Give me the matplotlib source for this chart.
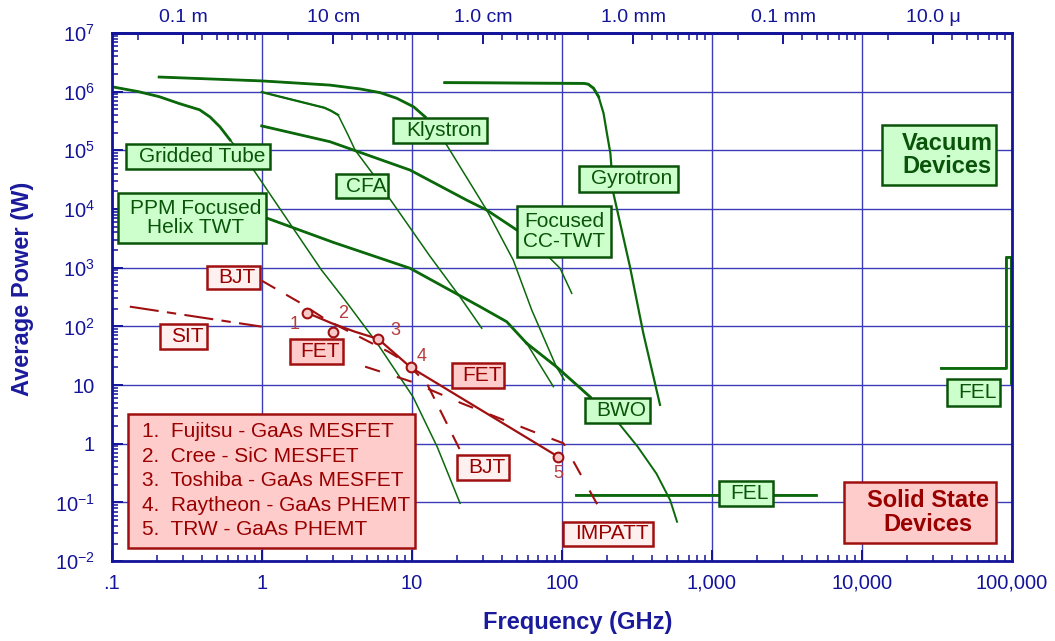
import numpy as np
import matplotlib
matplotlib.use('Agg')
import matplotlib.pyplot as plt
from matplotlib.patches import Rectangle
from matplotlib.ticker import FixedLocator, LogLocator, NullFormatter

plt.rcParams['font.family'] = ['Liberation Sans', 'DejaVu Sans']
plt.rcParams['mathtext.fontset'] = 'custom'
plt.rcParams['mathtext.rm'] = 'Liberation Sans'
plt.rcParams['mathtext.it'] = 'Liberation Sans:italic'
plt.rcParams['mathtext.bf'] = 'Liberation Sans:bold'

# ---- vacuum devices: frequency (GHz) / average power (W) ----
gridded_f = [0.1, 0.15, 0.207, 0.285, 0.385, 0.452, 0.527, 0.615, 0.74, 0.9,
             2.50, 3.58, 5.87, 10.2, 14.8, 21.0]
gridded_p = [1.21e6, 1.0e6, 8.2e5, 6.2e5, 4.9e5, 3.7e5, 2.5e5, 1.5e5, 8.6e4, 4.3e4,
             914, 282, 52, 6.3, 0.88, 0.097]

klystron_f = [0.207, 1.0, 2.85, 4.52, 6.15, 7.94, 10.3, 12.3, 17.1, 31.6, 47.5, 63.1, 92, 104]
klystron_p = [1.77e6, 1.52e6, 1.29e6, 1.11e6, 9.6e5, 7.7e5, 5.5e5, 3.7e5, 1.23e5, 9.6e3,
              1.35e3, 190, 20.6, 12.2]

cfa_f = [1.0, 2.62, 2.90, 3.23, 3.77, 4.19, 5.45, 6.98, 13.2, 21.0, 29.3]
cfa_p = [9.8e5, 5.3e5, 4.7e5, 4.0e5, 1.8e5, 1.01e5, 4.1e4, 1.62e4, 1.58e3, 317, 93]

cctwt_f = [1.0, 2.85, 9.75, 23.2, 31.6, 50.1, 81.5, 97.5, 116.6]
cctwt_p = [2.6e5, 1.4e5, 4.6e4, 1.42e4, 9.6e3, 4.4e3, 1.54e3, 977, 366]

helix_f = [0.9, 1.09, 3.0, 9.75, 28.5, 43, 58.4, 88]
helix_p = [8.2e3, 6.95e3, 2.7e3, 977, 217, 120, 51.5, 9.4]

bwo_f = [58.4, 92, 154.5, 240, 321, 428, 528, 587]
bwo_p = [51.5, 20.6, 6.3, 2.23, 0.89, 0.31, 0.11, 0.047]

gyro_f = [16.6, 139, 150, 163, 176, 190, 200, 211, 221, 285, 350, 452]
gyro_p = [1.42e6, 1.38e6, 1.34e6, 1.14e6, 8.2e5, 4.27e5, 1.95e5, 8.9e4, 1.85e4, 1.04e3, 76, 4.6]

fel_mm_f = [125, 4960]
fel_mm_p = [0.134, 0.134]

fel_ir_f = [34000, 91900, 91900, 98500, 98500]
fel_ir_p = [19.3, 19.3, 1540, 1540, 10.7]

# ---- solid state devices ----
sit_f = [0.132, 1.0]
sit_p = [217, 99]

bjt_f = [1.0, 1.75, 2.71, 7.0, 9.0, 12.6, 21.0]
bjt_p = [601, 264, 128, 37, 25, 10.7, 0.78]

impatt_f = [4.89, 10.0, 21.5, 73.6, 102.6, 194]
impatt_p = [20.6, 11.4, 4.9, 1.41, 1.02, 0.054]

fet_f = [2.0, 2.93, 4.19, 5.98, 9.85, 94.9]
fet_p = [171, 113, 81, 61, 20, 0.60]

# numbered state-of-the-art FET results
device_f = [2.0, 3.0, 5.98, 9.85, 94.9]
device_p = [171, 81, 61, 20, 0.60]
device_names = ['Fujitsu - GaAs MESFET', 'Cree - SiC MESFET', 'Toshiba - GaAs MESFET',
                'Raytheon - GaAs PHEMT', 'TRW - GaAs PHEMT']

x_ticks = [0.1, 1, 10, 100, 1e3, 1e4, 1e5]
x_labels = ['.1', '1', '10', '100', '1,000', '10,000', '100,000']
y_ticks = [1e-2, 1e-1, 1, 10, 1e2, 1e3, 1e4, 1e5, 1e6, 1e7]
y_labels = [r'$10^{-2}$', r'$10^{-1}$', '1', '10', r'$10^{2}$', r'$10^{3}$',
            r'$10^{4}$', r'$10^{5}$', r'$10^{6}$', r'$10^{7}$']
wave_ticks = [0.3, 3, 30, 300, 3000, 30000]
wave_labels = ['0.1 m', '10 cm', '1.0 cm', '1.0 mm', '0.1 mm', '10.0 \u03bc']

GREEN = '#0b690b'
GREEN_TXT = '#0a540a'
RED = '#a01010'
RED_TXT = '#990000'
AXIS = '#14149a'
GRID = '#3c3cb8'

fig = plt.figure(figsize=(10.55, 6.41), dpi=100)
ax = fig.add_axes([0.1059, 0.1245, 0.8531, 0.8242])
ax.set_xscale('log')
ax.set_yscale('log')
ax.set_xlim(0.1, 1e5)
ax.set_ylim(1e-2, 1e7)

ax.grid(True, which='major', color=GRID, lw=1.0, zorder=0)
ax.set_axisbelow(True)


def vacuum(f, p, thick_to=None, thin=1.1, thick=2.0):
    ax.plot(f, p, color=GREEN, lw=thin, zorder=2, solid_joinstyle='round')
    if thick_to is not None:
        f = np.asarray(f)
        p = np.asarray(p)
        keep = f <= thick_to
        ax.plot(f[keep], p[keep], color=GREEN, lw=thick, zorder=2, solid_joinstyle='round')


vacuum(gridded_f, gridded_p, thick_to=0.62)
vacuum(klystron_f, klystron_p, thick_to=12.3)
vacuum(cfa_f, cfa_p, thick_to=3.3, thick=1.6)
vacuum(cctwt_f, cctwt_p, thick_to=60)
vacuum(helix_f, helix_p, thick_to=58.4)
vacuum(bwo_f, bwo_p, thick_to=160, thin=1.4)
vacuum(gyro_f, gyro_p, thick_to=180, thin=1.6)
vacuum(fel_mm_f, fel_mm_p, thick_to=1e5)
vacuum(fel_ir_f, fel_ir_p, thick_to=1e5)

ax.plot(sit_f, sit_p, color=RED, lw=1.5, ls=(0, (14, 4, 4.5, 4)), zorder=3)
ax.plot(bjt_f, bjt_p, color=RED, lw=1.5, ls=(0, (7.5, 6)), zorder=3)
ax.plot(impatt_f, impatt_p, color=RED, lw=1.5, ls=(0, (7.5, 8.5)), zorder=3)
ax.plot(fet_f, fet_p, color=RED, lw=1.6, zorder=3)
ax.plot(device_f, device_p, ls='none', marker='o', ms=7, mfc='#f6c8c8', mec=RED,
        mew=1.5, zorder=3.5)

# point numbers next to the markers
for num, (x, y) in enumerate([(0.2037, 0.4471), (0.2573, 0.4692), (0.3148, 0.4376),
                              (0.3444, 0.3871), (0.4962, 0.1664)], start=1):
    ax.text(x, y, str(num), transform=ax.transAxes, color='#b53c3c', fontsize=13,
            ha='center', va='center', zorder=5)


def tag(box, text, face, edge, color, size=15, weight='normal', dx=0.004, lw=1.8):
    x0, y0, x1, y1 = box
    ax.add_patch(Rectangle((x0, y0), x1 - x0, y1 - y0, transform=ax.transAxes,
                           facecolor=face, edgecolor=edge, lw=lw, zorder=4,
                           clip_on=False))
    ax.text((x0 + x1) / 2 + dx, (y0 + y1) / 2, text, transform=ax.transAxes, color=color,
            fontsize=size, fontweight=weight, ha='center', va='center',
            multialignment='center', linespacing=1.05, zorder=5)


LIGHT_GREEN = '#ccffcc'
PINK = '#ffcccc'
PALE = '#fff0f0'

tag((0.0160, 0.7424, 0.1764, 0.7897), 'Gridded Tube', LIGHT_GREEN, GREEN_TXT, GREEN_TXT)
tag((0.3129, 0.7922, 0.4167, 0.8383), 'Klystron', LIGHT_GREEN, GREEN_TXT, GREEN_TXT)
tag((0.2492, 0.6869, 0.3073, 0.7329), 'CFA', LIGHT_GREEN, GREEN_TXT, GREEN_TXT)
tag((0.0073, 0.6017, 0.1719, 0.6975), 'PPM Focused\nHelix TWT', LIGHT_GREEN, GREEN_TXT, GREEN_TXT)
tag((0.4507, 0.5764, 0.5544, 0.6729), 'Focused\nCC-TWT', LIGHT_GREEN, GREEN_TXT, GREEN_TXT, dx=0)
tag((0.5189, 0.6983, 0.6288, 0.7486), 'Gyrotron', LIGHT_GREEN, GREEN_TXT, GREEN_TXT)
tag((0.5257, 0.2622, 0.5977, 0.3095), 'BWO', LIGHT_GREEN, GREEN_TXT, GREEN_TXT)
tag((0.6747, 0.1045, 0.7342, 0.1518), 'FEL', LIGHT_GREEN, GREEN_TXT, GREEN_TXT)
tag((0.9283, 0.2943, 0.9870, 0.3449), 'FEL', LIGHT_GREEN, GREEN_TXT, GREEN_TXT)
tag((0.8554, 0.7121, 0.9824, 0.8257), 'Vacuum\nDevices', LIGHT_GREEN, GREEN_TXT, GREEN_TXT,
    size=17, weight='bold', dx=0.009)

tag((0.1056, 0.5147, 0.1648, 0.5593), 'BJT', PALE, RED, RED_TXT)
tag((0.0537, 0.4017, 0.1056, 0.4490), 'SIT', PALE, RED, RED_TXT)
tag((0.1981, 0.3727, 0.2573, 0.4200), 'FET', PINK, RED, RED_TXT)
tag((0.3778, 0.3273, 0.4362, 0.3746), 'FET', PINK, RED, RED_TXT)
tag((0.3833, 0.1537, 0.4414, 0.2010), 'BJT', PALE, RED, RED_TXT)
tag((0.5011, 0.0288, 0.6018, 0.0748), 'IMPATT', PALE, RED, RED_TXT)
tag((0.8138, 0.0350, 0.9824, 0.1505), 'Solid State\nDevices', PINK, RED, RED_TXT,
    size=17, weight='bold', dx=0.009)

# numbered list of FET results
ax.add_patch(Rectangle((0.0179, 0.0244), 0.3193, 0.2537, transform=ax.transAxes,
                       facecolor=PINK, edgecolor=RED, lw=1.8, zorder=4))
for i, (name, y) in enumerate(zip(device_names, [0.2451, 0.1991, 0.1523, 0.1063, 0.0604])):
    ax.text(0.0337, y, f'{i + 1}.  {name}', transform=ax.transAxes, color=RED_TXT,
            fontsize=15, ha='left', va='center', zorder=5)

# axes, ticks, labels
ax.xaxis.set_major_locator(FixedLocator(x_ticks))
ax.set_xticklabels(x_labels)
ax.xaxis.set_minor_locator(LogLocator(base=10, subs=np.arange(2, 10), numticks=100))
ax.xaxis.set_minor_formatter(NullFormatter())
ax.yaxis.set_major_locator(FixedLocator(y_ticks))
ax.set_yticklabels(y_labels)
ax.yaxis.set_minor_locator(LogLocator(base=10, subs=np.arange(2, 10), numticks=100))
ax.yaxis.set_minor_formatter(NullFormatter())

ax.tick_params(which='major', direction='in', length=8, width=1.4, color=AXIS,
               labelcolor=AXIS, labelsize=14.5)
ax.tick_params(which='minor', direction='in', length=4, width=1.1, color=AXIS)
ax.tick_params(axis='x', pad=9)
ax.tick_params(axis='y', pad=12)
for side in ax.spines.values():
    side.set_color(AXIS)
    side.set_linewidth(2.0)

top = ax.secondary_xaxis('top', functions=(lambda x: x, lambda x: x))
top.set_xticks(wave_ticks)
top.set_xticklabels(wave_labels)
top_minor = [m * 10.0 ** k for k in range(-2, 5) for m in (1.5, 4, 5, 6, 7, 8, 9)]
top.xaxis.set_minor_locator(FixedLocator([v for v in top_minor if 0.1 < v < 1e5]))
top.xaxis.set_minor_formatter(NullFormatter())
top.tick_params(which='major', direction='in', length=8, width=1.4, color=AXIS,
                labelcolor=AXIS, labelsize=14, pad=5)
top.tick_params(which='minor', direction='in', length=5, width=1.1, color=AXIS)
top.spines['top'].set_color(AXIS)
top.spines['top'].set_linewidth(2.0)

ax.set_xlabel('Frequency (GHz)', fontsize=17, fontweight='bold', color='#1a1a9c')
ax.xaxis.set_label_coords(0.518, -0.095)
ax.set_ylabel('Average Power (W)', fontsize=17, fontweight='bold', color='#1a1a9c')
ax.yaxis.set_label_coords(-0.086, 0.515)

fig.savefig('out.png', dpi=100)
